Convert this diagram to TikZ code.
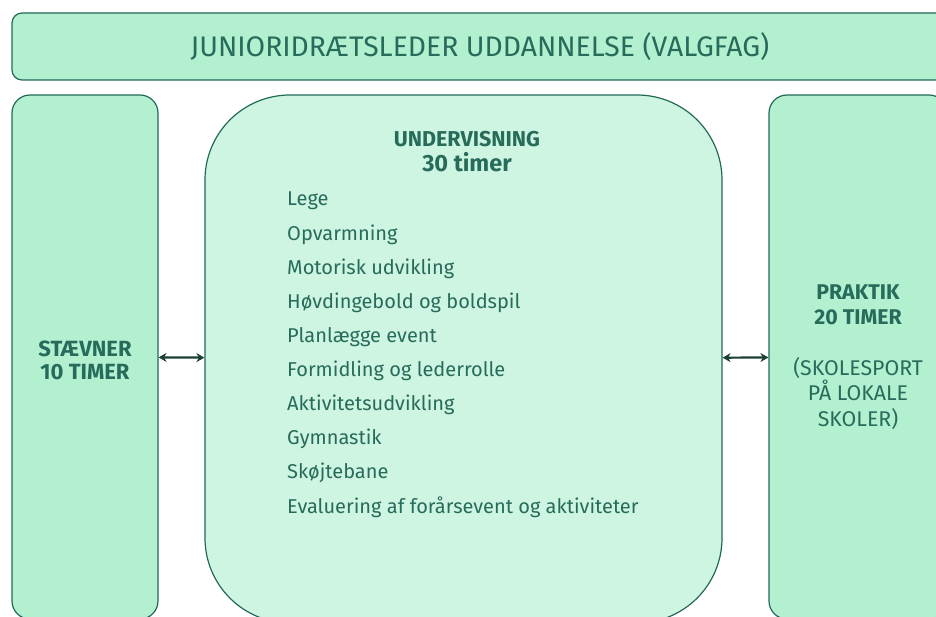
\documentclass[tikz,border=0pt]{standalone}
\usepackage{fontspec}
\setmainfont{Fira Sans}
\usetikzlibrary{positioning,arrows.meta}

\definecolor{mint}{HTML}{B2F0D0}
\definecolor{lightmint}{HTML}{CEF5E1}
\definecolor{edge}{HTML}{22695A}
\definecolor{ink}{HTML}{276B5B}
\definecolor{arrowink}{HTML}{1B3F35}

\begin{document}
\begin{tikzpicture}[x=1pt,y=-1pt,
  box/.style={draw=edge,line width=1.2pt,fill=mint,rounded corners=18pt,inner sep=0pt,text=ink},
  bigbox/.style={box,fill=lightmint,rounded corners=85pt},
  item/.style={anchor=west,text=ink,inner sep=0pt,font=\fontsize{20}{22}\selectfont},
  link/.style={{Stealth[length=8pt,width=9pt]}-{Stealth[length=8pt,width=9pt]},draw=arrowink,line width=2.2pt}]
\useasboundingbox (0,0) rectangle (936,617);
\clip (0,0) rectangle (936,617);

\node[box,rounded corners=10pt,minimum width=936pt,minimum height=67pt,font=\fontsize{28.3}{32}\selectfont] at (480,46.5) (title) {JUNIORIDRÆTSLEDER UDDANNELSE (VALGFAG)};

\node[box,minimum width=146pt,minimum height=524pt,align=center,font=\bfseries\fontsize{22}{23}\selectfont] at (85,357) (stv) {\strut\\[-17pt]STÆVNER\\10 TIMER};
\node[bigbox,minimum width=517pt,minimum height=528pt] at (463.5,359) (und) {};
\node[box,minimum width=178pt,minimum height=524pt,align=center,font=\fontsize{21.3}{25.5}\selectfont] at (858,357) (prk) {\textbf{PRAKTIK}\\\textbf{20 TIMER}\\[25pt](SKOLESPORT\\PÅ LOKALE\\SKOLER)};

\node[text=ink,align=center,font=\bfseries\fontsize{21.5}{25}\selectfont] at (467,152) (head) {UNDERVISNING\\{\fontsize{23.5}{25}\selectfont 30 timer}};

\foreach \txt [count=\i from 0] in {Lege,Opvarmning,Motorisk udvikling,Høvdingebold og boldspil,Planlægge event,Formidling og lederrolle,Aktivitetsudvikling,Gymnastik,Skøjtebane,Evaluering af forårsevent og aktiviteter}
  \node[item] at (287,{201+34*\i}) (item\i) {\txt};

\draw[link] (stv) -- (und);
\draw[link] (und) -- (prk);
\end{tikzpicture}
\end{document}
